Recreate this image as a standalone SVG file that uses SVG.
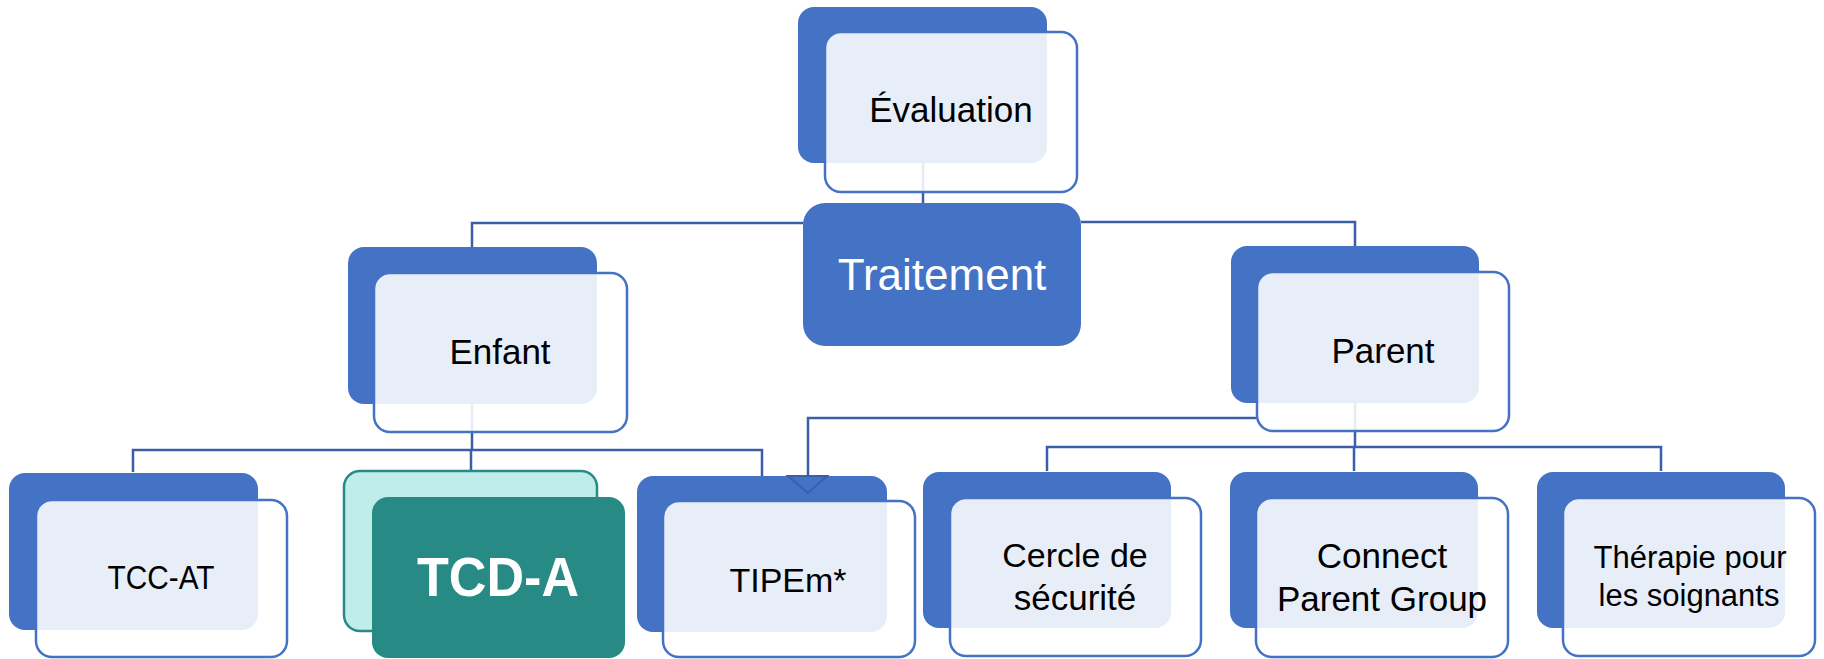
<svg xmlns="http://www.w3.org/2000/svg" width="1824" height="659" viewBox="0 0 1824 659">
  <style>
    .back { fill: #4472C4; }
    .front { fill: #FFFFFF; fill-opacity: 0.88; stroke: #4472C4; stroke-width: 2.5; }
    .conn { fill: none; stroke: #3A5FA8; stroke-width: 2.5; }
    .lbl { font-family: "Liberation Sans", Arial, sans-serif; fill: #000000; text-anchor: middle; }
  </style>
  <rect width="1824" height="659" fill="#FFFFFF"/>

  <!-- connectors (drawn first so the translucent cards sit over them) -->
  <g id="connectors">
    <path class="conn" d="M923 163 V203"/>
    <path class="conn" d="M803 223 H472 V247"/>
    <path class="conn" d="M1081 222 H1355 V246"/>
    <path class="conn" d="M472 404 V450"/>
    <path class="conn" d="M133 472 V450 H762 V476"/>
    <path class="conn" d="M471 450 V471"/>
    <path class="conn" d="M1355 403 V447"/>
    <path class="conn" d="M1047 471 V447 H1661 V471"/>
    <path class="conn" d="M1354 447 V471"/>
    <path class="conn" d="M1257 418 H808 V476"/>
  </g>

  <g id="evaluation">
    <rect class="back" x="798" y="7" width="249" height="156" rx="16"/>
    <rect class="front" x="825" y="32" width="252" height="160" rx="16"/>
    <text class="lbl" x="951" y="122" font-size="35">Évaluation</text>
  </g>

  <g id="traitement">
    <rect x="803" y="203" width="278" height="143" rx="22" fill="#4472C4"/>
    <text class="lbl" x="942" y="290" font-size="44" style="fill:#FFFFFF">Traitement</text>
  </g>

  <g id="enfant">
    <rect class="back" x="348" y="247" width="249" height="157" rx="16"/>
    <rect class="front" x="374" y="273" width="253" height="159" rx="16"/>
    <text class="lbl" x="500" y="364" font-size="35">Enfant</text>
  </g>

  <g id="parent">
    <rect class="back" x="1231" y="246" width="248" height="157" rx="16"/>
    <rect class="front" x="1257" y="272" width="252" height="159" rx="16"/>
    <text class="lbl" x="1383" y="363" font-size="35">Parent</text>
  </g>

  <g id="tcc-at">
    <rect class="back" x="9" y="473" width="249" height="157" rx="16"/>
    <rect class="front" x="36" y="500" width="251" height="157" rx="16"/>
    <text class="lbl" x="161" y="589" font-size="33" textLength="107" lengthAdjust="spacingAndGlyphs">TCC-AT</text>
  </g>

  <g id="tcd-a">
    <rect x="344" y="471" width="253" height="160" rx="16" fill="#C0ECEA" stroke="#2A8A85" stroke-width="2.5"/>
    <rect x="372" y="497" width="253" height="161" rx="16" fill="#278A85"/>
    <text x="498" y="596" font-family="Liberation Sans, Arial, sans-serif" font-weight="bold" font-size="55" fill="#FFFFFF" text-anchor="middle" textLength="162" lengthAdjust="spacingAndGlyphs">TCD-A</text>
  </g>

  <g id="tipem">
    <rect class="back" x="637" y="476" width="250" height="156" rx="16"/>
    <rect class="front" x="663" y="501" width="252" height="156" rx="16"/>
    <text class="lbl" x="788" y="592" font-size="34">TIPEm*</text>
  </g>

  <g id="cercle">
    <rect class="back" x="923" y="472" width="248" height="156" rx="16"/>
    <rect class="front" x="950" y="498" width="251" height="158" rx="16"/>
    <text class="lbl" x="1075" y="567" font-size="34">Cercle de</text>
    <text class="lbl" x="1075" y="610" font-size="35">sécurité</text>
  </g>

  <g id="connect">
    <rect class="back" x="1230" y="472" width="248" height="156" rx="16"/>
    <rect class="front" x="1256" y="498" width="252" height="159" rx="16"/>
    <text class="lbl" x="1382" y="568" font-size="35">Connect</text>
    <text class="lbl" x="1382" y="611" font-size="35">Parent Group</text>
  </g>

  <g id="therapie">
    <rect class="back" x="1537" y="472" width="248" height="156" rx="16"/>
    <rect class="front" x="1563" y="498" width="252" height="158" rx="16"/>
    <text class="lbl" x="1690" y="568" font-size="31">Thérapie pour</text>
    <text class="lbl" x="1689" y="606" font-size="31">les soignants</text>
  </g>

  <!-- arrowhead of the Parent → TIPEm* link, painted over the card -->
  <g id="connector-arrowheads">
    <polygon points="788,476 827,476 808,493" fill="none" stroke="#3A5FA8" stroke-width="2"/>
  </g>
</svg>
